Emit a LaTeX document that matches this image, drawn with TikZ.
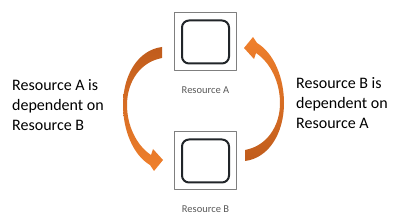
\documentclass[tikz,border=0pt]{standalone}
\usepackage{fontspec}
\setmainfont{Carlito}
\usetikzlibrary{positioning}
\definecolor{arrowdark}{RGB}{192,92,28}
\definecolor{arrowlight}{RGB}{240,128,44}
\definecolor{framegray}{RGB}{127,127,127}
\definecolor{labelgray}{RGB}{89,89,89}
\definecolor{boxline}{RGB}{33,37,41}
\tikzset{
  every picture/.style={line join=round, line cap=round},
  resource/.style={draw=framegray, line width=1pt, minimum width=62pt, minimum height=58pt, inner sep=0pt},
  innerbox/.style={draw=boxline, line width=2pt, rounded corners=7pt, minimum width=47pt, minimum height=43pt, inner sep=0pt},
  reslabel/.style={font=\fontsize{10.5}{12}\selectfont, text=labelgray, inner sep=0pt},
  note/.style={font=\fontsize{16}{20}\selectfont, align=left, inner sep=0pt, anchor=west},
}
% curved block arrow, blunt end at the top, head at the bottom
\newcommand{\bentpath}{(162,47) .. controls (138,50) and (123,75) .. (123,105)
  .. controls (123,130) and (133,155) .. (150,165) -- (154,171) -- (163,160) -- (153,149)
  -- (151,155) .. controls (136,145) and (127,125) .. (127,105)
  .. controls (127,82) and (140,62) .. (162,58) -- cycle}

\begin{document}
\begin{tikzpicture}[x=1pt,y=-1pt]
\useasboundingbox (0,0) rectangle (398,221);
\node[resource] (boxA) at (205.5,42) {};
\node[innerbox] (innerA) at (boxA) {};
\node[reslabel, below=15.5pt of boxA] (labelA) {Resource A};
\node[resource, below=60pt of boxA] (boxB) {};
\node[innerbox] (innerB) at (boxB) {};
\node[reslabel, below=15.5pt of boxB] (labelB) {Resource B};
% the two dependency arrows
\shade[top color=arrowdark, bottom color=arrowlight] \bentpath;
\begin{scope}[rotate around={180:(203.5,104)}]
\shade[top color=arrowlight, bottom color=arrowdark] \bentpath;
\end{scope}
\node[note] (noteA) at (12,105) {Resource A is\\dependent on\\Resource B};
\node[note] (noteB) at (296,103) {Resource B is\\dependent on\\Resource A};
\end{tikzpicture}
\end{document}
